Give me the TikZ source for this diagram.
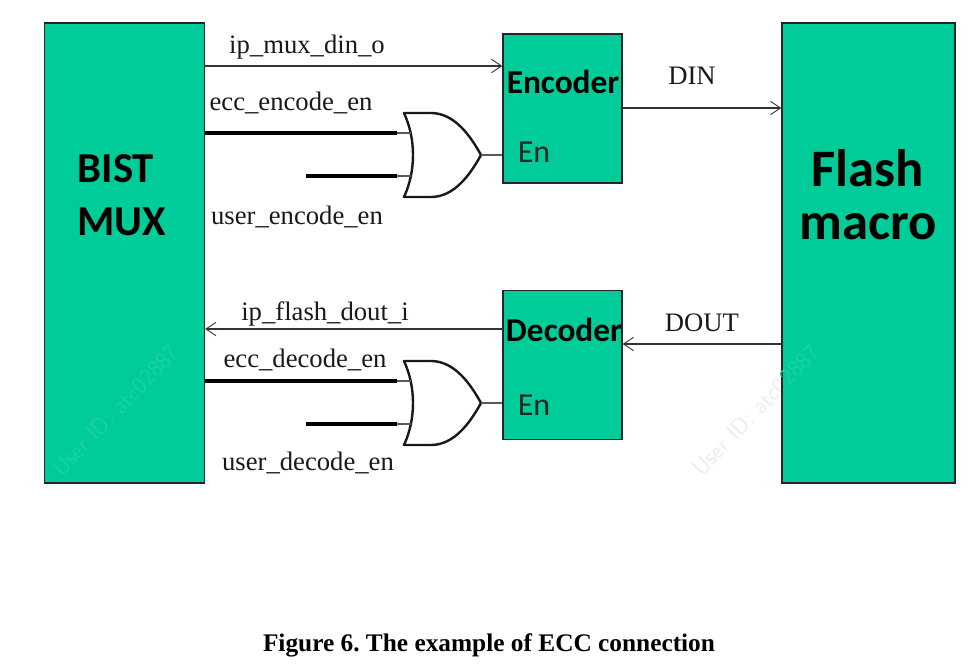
\documentclass[tikz,border=0pt]{standalone}
\usepackage{fontspec}
\usepackage{xcolor}
\setmainfont{Liberation Serif}
\newfontfamily\calibrifont{Carlito}
\usetikzlibrary{arrows.meta}
\definecolor{blockgreen}{HTML}{00CC99}
\definecolor{markgray}{HTML}{EDEDED}
\definecolor{markgreen}{HTML}{1AD1A3}
\tikzset{
    block-box/.style = {draw=black!85, fill=blockgreen, line width=1pt, rectangle, inner sep=0pt},
    big-title/.style = {font=\calibrifont\bfseries\fontsize{32}{40}\selectfont, align=left},
    flash-title/.style = {font=\calibrifont\bfseries\fontsize{39.5}{40}\selectfont, align=center},
    code-title/.style = {font=\calibrifont\bfseries\fontsize{25}{28}\selectfont, inner sep=0pt},
    en-title/.style = {font=\calibrifont\fontsize{24}{28}\selectfont, text=black!85, inner sep=0pt},
    wire-label/.style = {font=\fontsize{20}{24}\selectfont, text=black!90, inner sep=0pt},
    signal/.style = {draw=black!80, line width=0.85pt, -{Straight Barb[length=7.5pt,width=10pt,line width=0.7pt]}},
    thick-wire/.style = {draw=black, line width=2.4pt},
    thin-wire/.style = {draw=black!65, line width=0.8pt},
    gate-line/.style = {draw=black!90, line width=1.8pt, fill=white, line join=round},
    water-mark/.style = {rotate=46, font=\sffamily\fontsize{18}{20}\selectfont, inner sep=0pt, anchor=west},
    pics/or-gate/.style = {code={
        \draw[gate-line] (0,0) -- (27,0) .. controls (50,0) and (66,22) .. (77,42)
            .. controls (66,62) and (50,84) .. (27,84) -- (0,84)
            .. controls (12,58) and (12,26) .. (0,0) -- cycle;
        \coordinate (-a) at (7,20);
        \coordinate (-b) at (7,63);
        \coordinate (-y) at (77,42);
    }},
}
\begin{document}
\begin{tikzpicture}[x=0.75pt,y=-0.75pt]
\useasboundingbox (0,0) rectangle (979,669);
\node [block-box, minimum width=120pt, minimum height=345pt] (bistmux) at (124.5,253) {};
\node [block-box, minimum width=89.25pt, minimum height=111.75pt] (encoder) at (562.5,108.5) {};
\node [block-box, minimum width=89.25pt, minimum height=111.75pt] (decoder) at (562.5,365) {};
\node [water-mark, text=markgray] (markwhite) at (696,472) {User ID: atc0};
\node [block-box, minimum width=129.75pt, minimum height=345pt] (flash) at (868.5,253) {};

\node [water-mark, text=markgreen] (markbist) at (56,472) {User ID: atc02887};
\node [water-mark, text=markgreen] (markflash) at (markwhite.east) {2887};

\node [big-title] (bisttext) at (122,195) {BIST\\MUX};
\node [flash-title] (flashtext) at (868,195) {Flash\\macro};
\node [code-title] (enctext) at (563,82) {Encoder};
\node [en-title] (enen) at (534,152) {En};
\node [code-title] (dectext) at (564,330) {Decoder};
\node [en-title] (decen) at (534,405) {En};

\pic (orenc) at (404,113) {or-gate};
\pic (ordec) at (404,361) {or-gate};

\draw [signal] (bistmux.east |- 0,66) -- (encoder.west |- 0,66);
\draw [signal] (encoder.east |- 0,108) -- (flash.west |- 0,108);
\draw [signal] (decoder.west |- 0,329) -- (bistmux.east |- 0,329);
\draw [signal] (flash.west |- 0,344) -- (decoder.east |- 0,344);

\coordinate (encuser) at (306,176);
\coordinate (decuser) at (306,424);
\draw [thin-wire] (bistmux.east |- orenc-a) -- (orenc-a);
\draw [thin-wire] (encuser) -- (orenc-b);
\draw [thin-wire] (bistmux.east |- ordec-a) -- (ordec-a);
\draw [thin-wire] (decuser) -- (ordec-b);
\draw [thick-wire] (bistmux.east |- orenc-a) -- (397,133);
\draw [thick-wire] (encuser) -- (397,176);
\draw [thick-wire] (bistmux.east |- ordec-a) -- (397,381);
\draw [thick-wire] (decuser) -- (397,424);
\draw [thin-wire] (orenc-y) -- (encoder.west |- orenc-y);
\draw [thin-wire] (ordec-y) -- (decoder.west |- ordec-y);

\node [wire-label] (muxdin) at (307,47) {ip\_mux\_din\_o};
\node [wire-label] (eccenc) at (291,103) {ecc\_encode\_en};
\node [wire-label] (userenc) at (297,217) {user\_encode\_en};
\node [wire-label] (din) at (692,76) {DIN};
\node [wire-label] (flashdout) at (325,314) {ip\_flash\_dout\_i};
\node [wire-label] (eccdec) at (305,360) {ecc\_decode\_en};
\node [wire-label] (userdec) at (308,463) {user\_decode\_en};
\node [wire-label] (dout) at (702,323) {DOUT};
\node [font=\bfseries\fontsize{19}{22}\selectfont, inner sep=0pt] (caption) at (489,645) {\frenchspacing Figure 6. The example of ECC connection};
\end{tikzpicture}
\end{document}
